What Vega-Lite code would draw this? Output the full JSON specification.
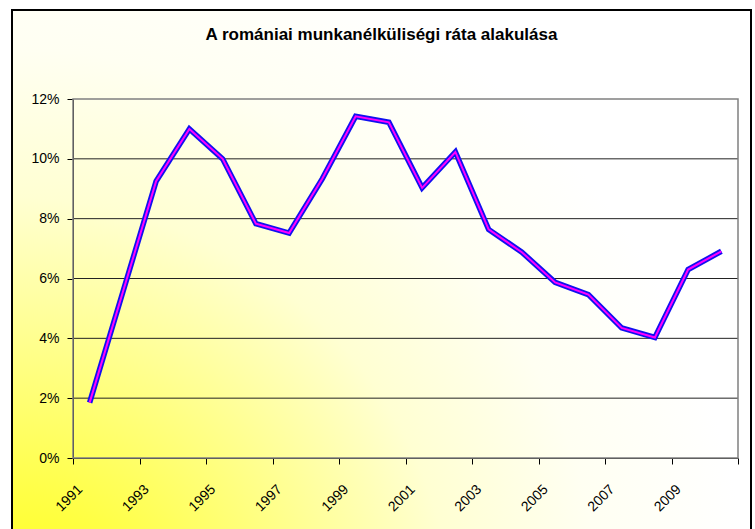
{
  "$schema": "https://vega.github.io/schema/vega-lite/v6.json",
  "width": 739,
  "height": 523,
  "autosize": "none",
  "padding": {"left": 12, "top": 10, "right": 4, "bottom": -4},
  "background": "white",
  "title": {
    "text": "A romániai munkanélküliségi ráta alakulása",
    "offset": -34,
    "fontSize": 17,
    "font": "Liberation Sans",
    "fontWeight": "bold",
    "color": "black",
    "anchor": "middle",
    "frame": "group"
  },
  "config": {
    "font": "Liberation Sans",
    "view": {
      "stroke": "black",
      "strokeWidth": 2,
      "fill": {
        "gradient": "radial",
        "x1": 0, "y1": 1, "r1": 0,
        "x2": 0, "y2": 1, "r2": 1,
        "stops": [
          {"offset": 0, "color": "#FFFF0A"},
          {"offset": 0.2, "color": "#FFFF46"},
          {"offset": 0.4, "color": "#FFFF8C"},
          {"offset": 0.6, "color": "#FFFFD2"},
          {"offset": 0.8, "color": "#FFFFF2"},
          {"offset": 1, "color": "#FFFFFF"}
        ]
      }
    }
  },
  "datasets": {
    "rate": [
      {"year": 1991, "rate": 0.0185},
      {"year": 1992, "rate": 0.0555},
      {"year": 1993, "rate": 0.0925},
      {"year": 1994, "rate": 0.110},
      {"year": 1995, "rate": 0.100},
      {"year": 1996, "rate": 0.0783},
      {"year": 1997, "rate": 0.0752},
      {"year": 1998, "rate": 0.0934},
      {"year": 1999, "rate": 0.1142},
      {"year": 2000, "rate": 0.1122},
      {"year": 2001, "rate": 0.0903},
      {"year": 2002, "rate": 0.1023},
      {"year": 2003, "rate": 0.0764},
      {"year": 2004, "rate": 0.0688},
      {"year": 2005, "rate": 0.0587},
      {"year": 2006, "rate": 0.0546},
      {"year": 2007, "rate": 0.0435},
      {"year": 2008, "rate": 0.0403},
      {"year": 2009, "rate": 0.063},
      {"year": 2010, "rate": 0.0691}
    ],
    "grid": [
      {"v": 0.02}, {"v": 0.04}, {"v": 0.06}, {"v": 0.08}, {"v": 0.10}
    ],
    "frame": [
      {"from": 1990.5, "to": 2010.5, "low": 0, "high": 0.12}
    ]
  },
  "layer": [
    {
      "data": {"name": "grid"},
      "mark": {"type": "rule", "color": "#222222", "strokeWidth": 1},
      "encoding": {
        "y": {"field": "v", "type": "quantitative"},
        "x": {"datum": 1990.5, "type": "quantitative"},
        "x2": {"datum": 2010.5}
      }
    },
    {
      "data": {"name": "frame"},
      "mark": {"type": "rect", "filled": false, "stroke": "#808080", "strokeWidth": 1.5},
      "encoding": {
        "x": {"field": "from", "type": "quantitative"},
        "x2": {"field": "to"},
        "y": {"field": "low", "type": "quantitative"},
        "y2": {"field": "high"}
      }
    },
    {
      "data": {"name": "rate"},
      "mark": {"type": "line", "color": "#1010F0", "strokeWidth": 5.5},
      "encoding": {
        "x": {
          "field": "year", "type": "quantitative",
          "scale": {"domain": [1990.5, 2010.5], "range": [61, 726], "nice": false, "zero": false},
          "axis": {
            "orient": "bottom",
            "offset": -75,
            "title": null,
            "grid": false,
            "values": [1990.5, 1991.5, 1992.5, 1993.5, 1994.5, 1995.5, 1996.5, 1997.5, 1998.5, 1999.5, 2000.5, 2001.5, 2002.5, 2003.5, 2004.5, 2005.5, 2006.5, 2007.5, 2008.5, 2009.5, 2010.5],
            "labelExpr": "((datum.value + 0.5) % 2 == 1 && datum.value < 2010) ? ('' + (datum.value + 0.5)) : ''",
            "labelAngle": -45,
            "labelAlign": "right",
            "labelBaseline": "middle",
            "labelOffset": 7,
            "labelPadding": 23,
            "labelOverlap": false,
            "labelFlush": false,
            "labelBound": false,
            "labelFontSize": 14,
            "labelColor": "black",
            "domainColor": "black",
            "domainWidth": 1,
            "tickColor": "black",
            "tickSize": 6,
            "tickWidth": 1
          }
        },
        "y": {
          "field": "rate", "type": "quantitative",
          "scale": {"domain": [0, 0.12], "range": [448, 89], "nice": false, "zero": true},
          "axis": {
            "orient": "left",
            "offset": -61,
            "title": null,
            "grid": false,
            "values": [0, 0.02, 0.04, 0.06, 0.08, 0.10, 0.12],
            "format": ".0%",
            "labelPadding": 8,
            "labelFontSize": 14,
            "labelColor": "black",
            "labelFlush": false,
            "labelBound": false,
            "labelOverlap": false,
            "domainColor": "black",
            "domainWidth": 1,
            "tickColor": "black",
            "tickSize": 6,
            "tickWidth": 1
          }
        }
      }
    },
    {
      "data": {"name": "rate"},
      "mark": {"type": "line", "color": "#FF00FF", "strokeWidth": 2},
      "encoding": {
        "x": {"field": "year", "type": "quantitative"},
        "y": {"field": "rate", "type": "quantitative"}
      }
    }
  ]
}
